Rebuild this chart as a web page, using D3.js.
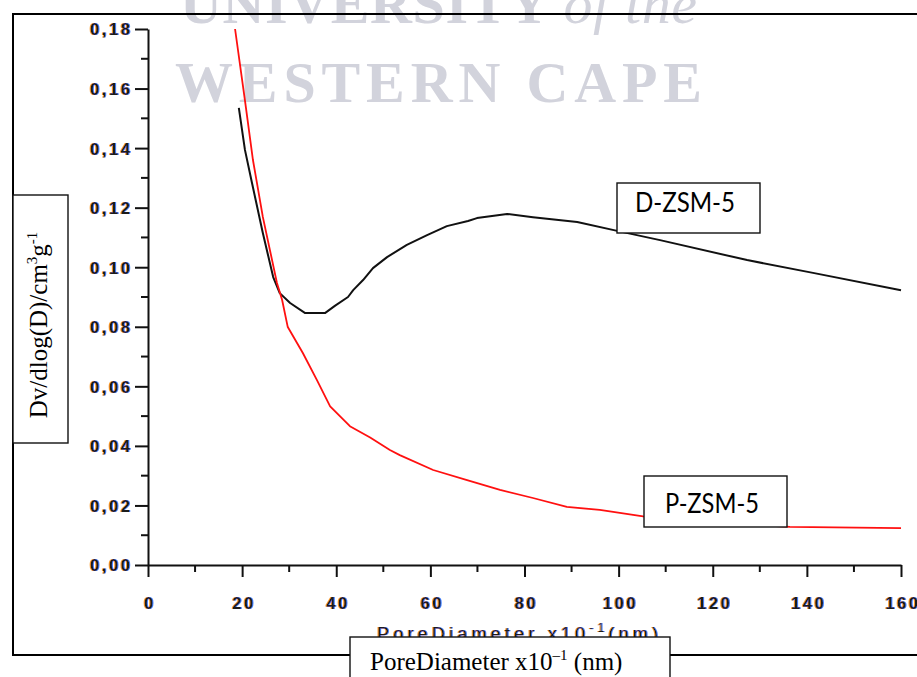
<!DOCTYPE html>
<html>
<head>
<meta charset="utf-8">
<script src="https://cdn.jsdelivr.net/npm/d3@7"></script>
<style>
  html, body { margin: 0; padding: 0; background: #fff; }
  svg { display: block; }
</style>
</head>
<body>
<svg id="chart" width="917" height="677"></svg>
<script>
// Pore size distribution, D-ZSM-5 and P-ZSM-5
const dPore  = [19.3, 20.6, 22.1, 24.4, 26.6, 28.0, 30.2, 33.4, 37.6, 39.7, 42.5, 43.6, 45.7, 47.8, 50.8, 55.0, 59.3, 63.5, 68.0, 69.9, 76.3, 81.8, 91.2, 99.7, 108.8, 127.3, 141.3, 160];
const dValue = [0.1535, 0.1394, 0.1283, 0.1115, 0.0967, 0.0913, 0.0880, 0.0846, 0.0846, 0.0870, 0.0900, 0.0923, 0.0957, 0.0997, 0.1034, 0.1075, 0.1108, 0.1138, 0.1155, 0.1165, 0.1179, 0.1168, 0.1152, 0.1122, 0.1091, 0.1024, 0.0981, 0.0923];

const pPore  = [18.5, 20.6, 22.3, 24.4, 25.9, 27.4, 28.5, 29.7, 32.9, 35.9, 38.7, 42.9, 47.2, 51.4, 53.5, 60.6, 67.8, 74.8, 81.8, 89.0, 96.0, 105.2, 120, 136.4, 160];
const pValue = [0.180, 0.156, 0.136, 0.1169, 0.1058, 0.0947, 0.0890, 0.0799, 0.0712, 0.0621, 0.0533, 0.0466, 0.0428, 0.0386, 0.0369, 0.0319, 0.0285, 0.0252, 0.0225, 0.0195, 0.0185, 0.0163, 0.0142, 0.0128, 0.0124];

const xTicks = [0, 20, 40, 60, 80, 100, 120, 140, 160];
const xMinor = [10, 30, 50, 70, 90, 110, 130, 150];
const yTicks = [0, 0.02, 0.04, 0.06, 0.08, 0.10, 0.12, 0.14, 0.16, 0.18];
const yMinor = [0.01, 0.03, 0.05, 0.07, 0.09, 0.11, 0.13, 0.15, 0.17];

const seriesNames = ["D-ZSM-5", "P-ZSM-5"];

const svg = d3.select("#chart");
svg.append("rect").attr("width", 917).attr("height", 677).attr("fill", "#fff");

// colour fringe around the Origin-style tick labels
const defs = svg.append("defs");
const f = defs.append("filter").attr("id", "fringe").attr("x", "-10%").attr("y", "-10%").attr("width", "120%").attr("height", "120%");
f.append("feOffset").attr("in", "SourceAlpha").attr("dx", -0.9).attr("dy", 0).attr("result", "lo");
f.append("feFlood").attr("flood-color", "#ff8a00").attr("flood-opacity", 0.85).attr("result", "lf");
f.append("feComposite").attr("in", "lf").attr("in2", "lo").attr("operator", "in").attr("result", "lc");
f.append("feOffset").attr("in", "SourceAlpha").attr("dx", 0.9).attr("dy", 0).attr("result", "ro");
f.append("feFlood").attr("flood-color", "#1f6bff").attr("flood-opacity", 0.85).attr("result", "rf");
f.append("feComposite").attr("in", "rf").attr("in2", "ro").attr("operator", "in").attr("result", "rc");
const fm = f.append("feMerge");
fm.append("feMergeNode").attr("in", "lc");
fm.append("feMergeNode").attr("in", "rc");
fm.append("feMergeNode").attr("in", "SourceGraphic");

// watermark
const wm = svg.append("g").attr("fill", "#d2d3dc").attr("font-weight", "bold")
  .attr("font-family", "'Liberation Serif', 'Times New Roman', serif");
const wm1 = wm.append("text").attr("x", 180).attr("y", 23).attr("font-size", 58)
  .attr("textLength", 517).attr("lengthAdjust", "spacing");
wm1.append("tspan").text("UNIVERSITY ");
wm1.append("tspan").attr("font-style", "italic").attr("font-weight", "normal").text("of the");
wm.append("text").attr("x", 175).attr("y", 102).attr("font-size", 58)
  .attr("textLength", 527).attr("lengthAdjust", "spacing").text("WESTERN CAPE");

// outer frame
svg.append("rect").attr("x", 13).attr("y", 14).attr("width", 940).attr("height", 641)
  .attr("fill", "none").attr("stroke", "#000").attr("stroke-width", 2);

const x = d3.scaleLinear().domain([0, 160]).range([148, 901]);
const y = d3.scaleLinear().domain([0, 0.18]).range([565, 29]);

const commaFmt = d3.formatLocale({ decimal: ",", thousands: ".", grouping: [3], currency: ["", ""] }).format(".2f");

const tickFont = "'Liberation Sans', Arial, sans-serif";

// y axis
const yAxis = svg.append("g").attr("transform", "translate(148,0)")
  .call(d3.axisLeft(y).tickValues(yTicks).tickSize(13).tickPadding(5).tickSizeOuter(0).tickFormat(commaFmt));
yAxis.append("g").selectAll("line").data(yMinor).join("line")
  .attr("x1", -7).attr("x2", 0).attr("y1", d => y(d)).attr("y2", d => y(d));

// x axis
const xAxis = svg.append("g").attr("transform", "translate(0,565)")
  .call(d3.axisBottom(x).tickValues(xTicks).tickSize(12).tickPadding(20).tickSizeOuter(0).tickFormat(d3.format("d")));
xAxis.append("g").selectAll("line").data(xMinor).join("line")
  .attr("x1", d => x(d)).attr("x2", d => x(d)).attr("y1", 0).attr("y2", 7);

[yAxis, xAxis].forEach(a => {
  a.select(".domain").attr("stroke", "#111").attr("stroke-width", 2);
  a.selectAll("line").attr("stroke", "#111").attr("stroke-width", 2);
  a.selectAll("text")
    .attr("font-family", tickFont).attr("font-weight", "bold").attr("font-size", 16.5)
    .attr("letter-spacing", "2.6px").attr("fill", "#1c1c1c").attr("filter", "url(#fringe)");
});
yAxis.selectAll(".tick text").attr("dx", 2.6).attr("dy", "0.36em");
xAxis.selectAll(".tick text").attr("dx", 1.3).attr("dy", "0.71em");

// Origin axis title (partly covered by the boxed title below)
const oTitle = svg.append("text").attr("x", 377).attr("y", 640)
  .attr("font-family", tickFont).attr("font-size", 18).attr("letter-spacing", "4.2px")
  .attr("fill", "#1a1a1a").attr("filter", "url(#fringe)");
oTitle.append("tspan").text("PoreDiameter x10");
oTitle.append("tspan").attr("font-size", 12).attr("dy", -8).text("-1");
oTitle.append("tspan").attr("dy", 8).text("(nm)");

// curves
const line = d3.line().x(d => x(d[0])).y(d => y(d[1]));
svg.append("path").datum(d3.zip(dPore, dValue)).attr("d", line)
  .attr("fill", "none").attr("stroke", "#111").attr("stroke-width", 2).attr("stroke-linejoin", "round");
svg.append("path").datum(d3.zip(pPore, pValue)).attr("d", line)
  .attr("fill", "none").attr("stroke", "#ff1010").attr("stroke-width", 1.8).attr("stroke-linejoin", "round");

// labelled boxes
const serif = "'Liberation Serif', 'Times New Roman', serif";
const sans = "Lato, 'Open Sans', sans-serif";

function box(x0, y0, w, h) {
  return svg.append("rect").attr("x", x0).attr("y", y0).attr("width", w).attr("height", h)
    .attr("fill", "#fff").attr("stroke", "#111").attr("stroke-width", 1.4);
}

// y-axis title box
box(13, 195, 55, 248);
const yt = svg.append("text").attr("transform", "translate(47,325) rotate(-90)")
  .attr("text-anchor", "middle").attr("font-family", serif).attr("font-size", 25).attr("fill", "#000");
yt.append("tspan").text("Dv/dlog(D)/cm");
yt.append("tspan").attr("font-size", 15).attr("dy", -10).text("3");
yt.append("tspan").attr("dy", 10).text("g");
yt.append("tspan").attr("font-size", 15).attr("dy", -10).text("-1");

// x-axis title box
box(350, 637, 320, 60);
const xt = svg.append("text").attr("x", 370).attr("y", 670)
  .attr("font-family", serif).attr("font-size", 25).attr("fill", "#000");
xt.append("tspan").text("PoreDiameter x10");
xt.append("tspan").attr("font-size", 15).attr("dy", -10).text("\u20131");
xt.append("tspan").attr("dy", 10).text(" (nm)");

// series labels
box(617, 183, 143, 50);
svg.append("text").attr("x", 635).attr("y", 212).attr("font-family", sans).attr("font-size", 26)
  .attr("textLength", 100).attr("lengthAdjust", "spacingAndGlyphs").attr("fill", "#000").text(seriesNames[0]);
box(644, 476, 143, 51);
svg.append("text").attr("x", 665).attr("y", 513).attr("font-family", sans).attr("font-size", 26)
  .attr("textLength", 94).attr("lengthAdjust", "spacingAndGlyphs").attr("fill", "#000").text(seriesNames[1]);
</script>
</body>
</html>
